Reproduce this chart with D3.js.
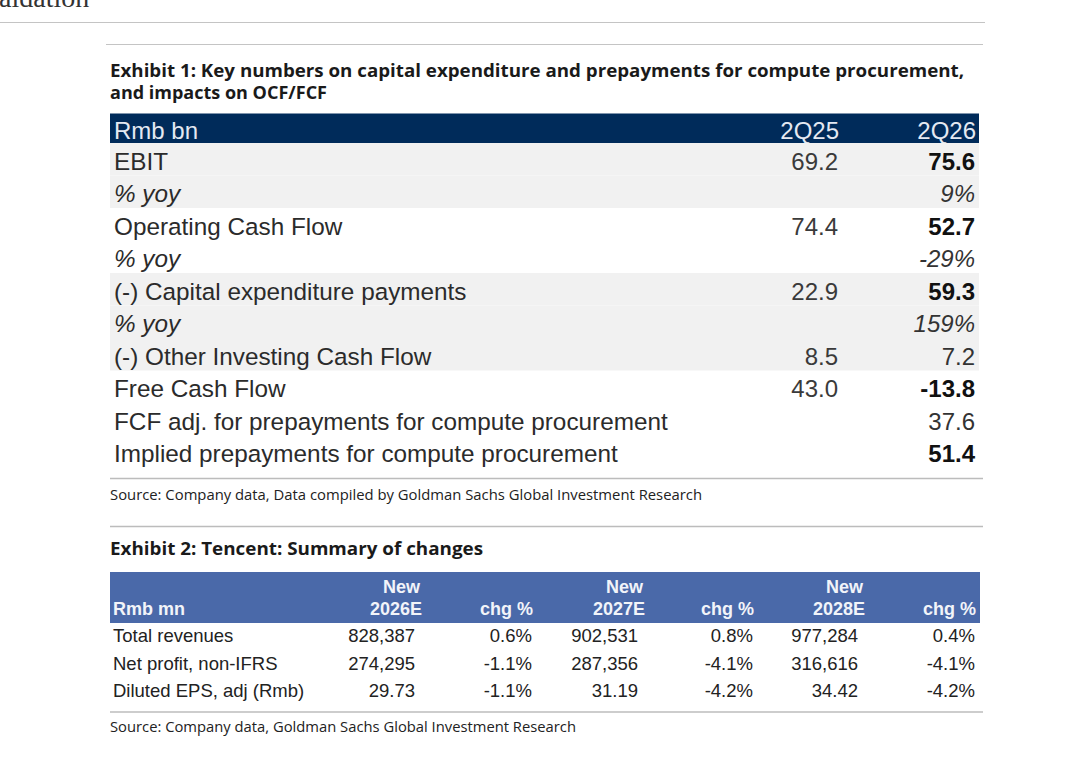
<!DOCTYPE html>
<html>
<head>
<meta charset="utf-8">
<script src="https://cdn.jsdelivr.net/npm/d3@7"></script>
<style>
  body { margin: 0; background: #fff; }
</style>
</head>
<body>
<div id="chart"></div>
<script>
// ---- Exhibit 1 data ----
const periods1 = ["2Q25", "2Q26"];
const rowLabels1 = [
  "EBIT", "% yoy", "Operating Cash Flow", "% yoy",
  "(-) Capital expenditure payments", "% yoy",
  "(-) Other Investing Cash Flow", "Free Cash Flow",
  "FCF adj. for prepayments for compute procurement",
  "Implied prepayments for compute procurement"
];
const values2Q25 = ["69.2", "", "74.4", "", "22.9", "", "8.5", "43.0", "", ""];
const values2Q26 = ["75.6", "9%", "52.7", "-29%", "59.3", "159%", "7.2", "-13.8", "37.6", "51.4"];

// ---- Exhibit 2 data ----
const years2 = ["2026E", "2027E", "2028E"];
const rowLabels2 = ["Total revenues", "Net profit, non-IFRS", "Diluted EPS, adj (Rmb)"];
const newValues = [
  [828387, 902531, 977284],
  [274295, 287356, 316616],
  [29.73, 31.19, 34.42]
];
const chgValues = [
  [0.6, 0.8, 0.4],
  [-1.1, -4.1, -4.1],
  [-1.1, -4.2, -4.2]
];

// styling helpers (which rows get shading / bold)
const shadedRows = [0, 1, 4, 5, 6];
const boldRows = [0, 2, 4, 7, 9];

const W = 1080, H = 772;
const sans = "'Liberation Sans', Arial, sans-serif";
const titleFont = "'Open Sans', Lato, sans-serif";

const loc = d3.formatLocale({decimal: ".", thousands: ",", grouping: [3], currency: ["", ""], minus: "-"});
const fmtInt = loc.format(",");
const fmtEps = loc.format(".2f");
const fmtPct = d => loc.format(".1f")(d) + "%";

const svg = d3.select("#chart").append("svg")
  .attr("width", W)
  .attr("height", H);

// cropped page heading and rules at the top
svg.append("text")
  .attr("x", -1).attr("y", 7)
  .attr("font-family", "'Liberation Serif', 'DejaVu Serif', serif")
  .attr("font-size", 28)
  .attr("fill", "#333")
  .text("aidation");

svg.append("line")
  .attr("x1", 0).attr("x2", 985).attr("y1", 22.5).attr("y2", 22.5)
  .attr("stroke", "#c4c4c4").attr("stroke-width", 1.2);

svg.append("line")
  .attr("x1", 106).attr("x2", 983).attr("y1", 44.5).attr("y2", 44.5)
  .attr("stroke", "#c4c4c4").attr("stroke-width", 1.2);

// helper for the Calibri-like captions (fit to measured widths)
function caption(x, y, txt, len, bold) {
  return svg.append("text")
    .attr("x", x).attr("y", y)
    .attr("font-family", titleFont)
    .attr("font-weight", bold ? "bold" : "normal")
    .attr("font-size", bold ? 17.5 : 13.8)
    .attr("fill", bold ? "#1a1a1a" : "#222")
    .attr("textLength", len)
    .attr("lengthAdjust", "spacingAndGlyphs")
    .text(txt);
}

// ---------- Exhibit 1 ----------
caption(110, 77, "Exhibit 1: Key numbers on capital expenditure and prepayments for compute procurement,", 854, true);
caption(110, 98.5, "and impacts on OCF/FCF", 217, true);

const t1Left = 110, t1Right = 979;

// column positions (right edges)
const col1 = d3.scaleOrdinal().domain(periods1).range([839, 976]);

// rows
const y1 = d3.scaleBand()
  .domain(d3.range(rowLabels1.length))
  .range([143, 468]);

// header bar
svg.append("rect")
  .attr("x", t1Left).attr("y", 113.5)
  .attr("width", t1Right - t1Left).attr("height", 29.5)
  .attr("fill", "#002b5a");

svg.append("text")
  .attr("x", 114).attr("y", 138.5)
  .attr("font-family", sans).attr("font-size", 24)
  .attr("fill", "#e4e9f2")
  .text("Rmb bn");

svg.selectAll(".hdr1")
  .data(periods1)
  .join("text")
  .attr("x", d => col1(d))
  .attr("y", 138.5)
  .attr("text-anchor", "end")
  .attr("font-family", sans).attr("font-size", 24)
  .attr("fill", "#e4e9f2")
  .text(d => d);

// row shading
svg.selectAll(".shade")
  .data(shadedRows)
  .join("rect")
  .attr("x", t1Left)
  .attr("y", d => y1(d))
  .attr("width", t1Right - t1Left)
  .attr("height", y1.bandwidth())
  .attr("fill", "#f1f1f1");

const rows1 = svg.selectAll(".row1")
  .data(rowLabels1.map((label, i) => ({label, i, a: values2Q25[i], b: values2Q26[i]})))
  .join("g")
  .attr("transform", d => `translate(0, ${y1(d.i) + 26.5})`);

rows1.append("text")
  .attr("x", 114)
  .attr("font-family", sans).attr("font-size", 24.3)
  .attr("font-style", d => d.label === "% yoy" ? "italic" : "normal")
  .attr("fill", "#2b2b2b")
  .text(d => d.label);

rows1.append("text")
  .attr("x", col1("2Q25") - 1)
  .attr("text-anchor", "end")
  .attr("font-family", sans).attr("font-size", 24)
  .attr("fill", "#3a3a3a")
  .text(d => d.a);

rows1.append("text")
  .attr("x", col1("2Q26") - 1)
  .attr("text-anchor", "end")
  .attr("font-family", sans).attr("font-size", 24)
  .attr("font-weight", d => boldRows.includes(d.i) ? "bold" : "normal")
  .attr("font-style", d => d.label === "% yoy" ? "italic" : "normal")
  .attr("fill", d => boldRows.includes(d.i) ? "#111" : "#333")
  .text(d => d.b);

svg.append("line")
  .attr("x1", 110).attr("x2", 983).attr("y1", 478.5).attr("y2", 478.5)
  .attr("stroke", "#bcbcbc").attr("stroke-width", 1.5);

caption(110, 500, "Source: Company data, Data compiled by Goldman Sachs Global Investment Research", 592, false);

svg.append("line")
  .attr("x1", 110).attr("x2", 983).attr("y1", 526.5).attr("y2", 526.5)
  .attr("stroke", "#bcbcbc").attr("stroke-width", 1.5);

// ---------- Exhibit 2 ----------
caption(110, 555, "Exhibit 2: Tencent: Summary of changes", 373, true);

// columns: new value / chg % for each year
const cols2 = years2.flatMap(yr => [{yr, kind: "new"}, {yr, kind: "chg"}]);
const x2 = d3.scaleOrdinal()
  .domain(cols2.map(c => c.yr + c.kind))
  .range([422, 533, 645, 754, 865, 976]);

svg.append("rect")
  .attr("x", 110).attr("y", 572)
  .attr("width", 870).attr("height", 51)
  .attr("fill", "#4a69a9");

svg.append("text")
  .attr("x", 113).attr("y", 615)
  .attr("font-family", sans).attr("font-size", 18).attr("font-weight", "bold")
  .attr("fill", "#f2f4f9")
  .text("Rmb mn");

const hdr2 = svg.selectAll(".hdr2")
  .data(cols2)
  .join("g")
  .attr("transform", d => `translate(${x2(d.yr + d.kind)}, 0)`)
  .attr("font-family", sans).attr("font-size", 18).attr("font-weight", "bold")
  .attr("fill", "#f2f4f9")
  .attr("text-anchor", "end");

hdr2.filter(d => d.kind === "new").append("text")
  .attr("x", -2).attr("y", 593)
  .text("New");
hdr2.filter(d => d.kind === "new").append("text")
  .attr("y", 615)
  .text(d => d.yr);
hdr2.filter(d => d.kind === "chg").append("text")
  .attr("y", 615)
  .text("chg %");

const y2 = d3.scalePoint()
  .domain(rowLabels2)
  .range([642, 697]);

const rows2 = svg.selectAll(".row2")
  .data(rowLabels2.map((label, i) => ({label, i})))
  .join("g")
  .attr("transform", d => `translate(0, ${y2(d.label)})`)
  .attr("font-family", sans).attr("font-size", 18.5)
  .attr("fill", "#222");

rows2.append("text")
  .attr("x", 113)
  .text(d => d.label);

rows2.each(function(d) {
  const g = d3.select(this);
  years2.forEach((yr, j) => {
    const v = newValues[d.i][j];
    g.append("text")
      .attr("x", x2(yr + "new") - 7)
      .attr("text-anchor", "end")
      .text(d.i === 2 ? fmtEps(v) : fmtInt(v));
    g.append("text")
      .attr("x", x2(yr + "chg") - 1)
      .attr("text-anchor", "end")
      .text(fmtPct(chgValues[d.i][j]));
  });
});

svg.append("line")
  .attr("x1", 110).attr("x2", 983).attr("y1", 712).attr("y2", 712)
  .attr("stroke", "#bcbcbc").attr("stroke-width", 1.5);

caption(110, 732, "Source: Company data, Goldman Sachs Global Investment Research", 466, false);
</script>
</body>
</html>
